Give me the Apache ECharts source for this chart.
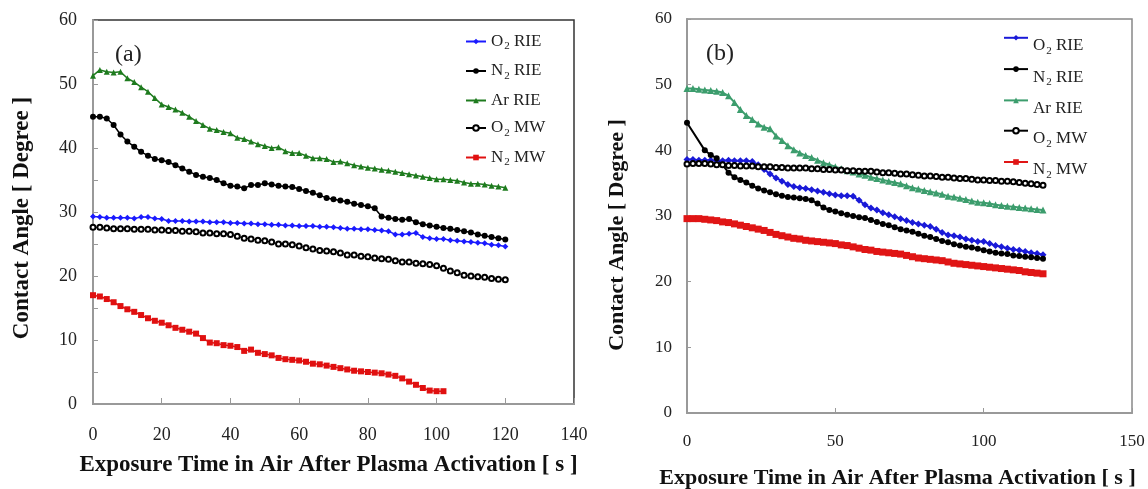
<!DOCTYPE html>
<html>
<head>
<meta charset="utf-8">
<script src="https://cdn.jsdelivr.net/npm/echarts@6/dist/echarts.min.js"></script>
<style>
html, body { margin: 0; padding: 0; background: #fff; }
#chartA { position: absolute; left: 0; top: 0; width: 600px; height: 489px; }
#chartB { position: absolute; left: 580px; top: 0; width: 568px; height: 489px; }
</style>
</head>
<body>
<div id="chartA"></div>
<div id="chartB"></div>
<script>
// (a) RIE / MW, sampled every 2 s
var timeA = [0, 2, 4, 6, 8, 10, 12, 14, 16, 18, 20, 22, 24, 26, 28, 30, 32, 34, 36, 38,
    40, 42, 44, 46, 48, 50, 52, 54, 56, 58, 60, 62, 64, 66, 68, 70, 72, 74, 76, 78,
    80, 82, 84, 86, 88, 90, 92, 94, 96, 98, 100, 102, 104, 106, 108, 110, 112, 114, 116, 118, 120];
var o2RieA = [29.3, 29.2, 29.1, 29.1, 29.1, 29.1, 29.0, 29.2, 29.2, 29.0,
    28.9, 28.6, 28.6, 28.6, 28.5, 28.5, 28.5, 28.4, 28.4, 28.4,
    28.3, 28.3, 28.2, 28.2, 28.1, 28.1, 28.0, 28.0, 27.9, 27.9,
    27.8, 27.8, 27.8, 27.7, 27.7, 27.6, 27.5, 27.4, 27.4, 27.3,
    27.3, 27.2, 27.1, 27.0, 26.5, 26.5, 26.6, 26.7, 26.1, 25.9,
    25.8, 25.8, 25.6, 25.5, 25.4, 25.3, 25.2, 25.1, 24.9, 24.8, 24.6];
var n2RieA = [44.9, 44.9, 44.6, 43.6, 42.1, 41.0, 40.2, 39.4, 38.8, 38.3,
    38.1, 37.8, 37.3, 36.8, 36.3, 35.8, 35.5, 35.3, 35.0, 34.5,
    34.1, 34.0, 33.7, 34.2, 34.2, 34.5, 34.3, 34.1, 34.0, 33.9,
    33.6, 33.3, 33.0, 32.6, 32.2, 32.0, 31.8, 31.6, 31.3, 31.1,
    30.9, 30.6, 29.3, 29.1, 28.9, 28.8, 28.9, 28.4, 28.1, 27.9,
    27.7, 27.5, 27.4, 27.2, 27.0, 26.8, 26.5, 26.3, 26.1, 25.9, 25.7];
var arRieA = [51.3, 52.2, 51.9, 51.8, 51.9, 50.9, 50.3, 49.5, 48.8, 47.8,
    46.8, 46.4, 46.0, 45.5, 44.9, 44.2, 43.6, 43.0, 42.8, 42.5,
    42.3, 41.6, 41.4, 41.0, 40.6, 40.3, 40.0, 40.1, 39.5, 39.2,
    39.2, 38.8, 38.4, 38.4, 38.3, 37.8, 37.9, 37.6, 37.3, 37.1,
    36.9, 36.8, 36.6, 36.5, 36.3, 36.1, 35.9, 35.7, 35.5, 35.3,
    35.1, 35.1, 35.0, 34.9, 34.6, 34.4, 34.4, 34.3, 34.1, 34.0, 33.8];
var o2MwA = [27.6, 27.6, 27.5, 27.4, 27.4, 27.4, 27.3, 27.3, 27.3, 27.2,
    27.2, 27.1, 27.1, 27.0, 27.0, 26.9, 26.7, 26.7, 26.6, 26.6,
    26.5, 26.2, 25.9, 25.8, 25.6, 25.5, 25.3, 25.0, 25.0, 24.9,
    24.7, 24.4, 24.2, 24.0, 23.9, 23.8, 23.6, 23.3, 23.3, 23.1,
    23.0, 22.8, 22.7, 22.6, 22.4, 22.2, 22.2, 22.0, 21.9, 21.8,
    21.6, 21.2, 20.8, 20.5, 20.1, 20.0, 19.9, 19.8, 19.6, 19.5, 19.4];
// N2 MW stops at 102 s
var n2MwA = [17.0, 16.8, 16.4, 15.9, 15.3, 14.8, 14.4, 13.9, 13.4, 13.0,
    12.7, 12.3, 11.9, 11.6, 11.3, 11.0, 10.3, 9.6, 9.5, 9.2,
    9.1, 8.9, 8.3, 8.5, 8.0, 7.8, 7.6, 7.2, 7.0, 6.9,
    6.8, 6.6, 6.3, 6.2, 6.0, 5.8, 5.6, 5.4, 5.2, 5.1,
    5.0, 4.9, 4.8, 4.6, 4.4, 4.0, 3.5, 3.0, 2.5, 2.1,
    2.0, 2.0];

// (b)
var timeB = timeA;
var o2RieB = [38.6, 38.6, 38.5, 38.5, 38.5, 38.4, 38.4, 38.5, 38.4, 38.4,
    38.4, 38.3, 37.8, 37.1, 36.4, 35.8, 35.3, 34.8, 34.5, 34.3,
    34.2, 34.0, 33.8, 33.6, 33.4, 33.2, 33.1, 33.1, 33.0, 32.4,
    31.7, 31.2, 30.9, 30.5, 30.2, 29.9, 29.6, 29.3, 29.0, 28.8,
    28.6, 28.4, 28.0, 27.5, 27.1, 27.0, 26.8, 26.5, 26.3, 26.1,
    26.1, 25.8, 25.5, 25.3, 25.1, 24.9, 24.8, 24.6, 24.4, 24.3, 24.1];
// first readings were taken at 0 s and 6 s only
var n2RieB = [44.2, null, null, 40.0, 39.3, 38.8, 37.8, 36.6, 35.9, 35.5,
    35.1, 34.6, 34.2, 33.9, 33.6, 33.3, 33.1, 32.9, 32.8, 32.7,
    32.6, 32.4, 31.9, 31.3, 30.9, 30.7, 30.4, 30.2, 30.0, 29.8,
    29.7, 29.4, 29.1, 28.8, 28.6, 28.3, 28.0, 27.8, 27.6, 27.3,
    27.0, 26.8, 26.5, 26.2, 26.0, 25.7, 25.5, 25.3, 25.2, 25.0,
    24.8, 24.6, 24.4, 24.3, 24.2, 24.0, 23.9, 23.8, 23.7, 23.6, 23.5];
var arRieB = [49.4, 49.4, 49.3, 49.2, 49.1, 49.0, 48.8, 48.3, 47.3, 46.2,
    45.3, 44.7, 44.0, 43.5, 43.3, 42.2, 41.5, 40.7, 40.1, 39.6,
    39.2, 38.9, 38.5, 38.1, 37.8, 37.5, 37.2, 36.9, 36.7, 36.4,
    36.2, 35.9, 35.7, 35.5, 35.3, 35.1, 34.9, 34.6, 34.3, 34.1,
    33.9, 33.7, 33.5, 33.3, 33.0, 32.9, 32.7, 32.5, 32.3, 32.1,
    32.0, 31.9, 31.7, 31.6, 31.5, 31.4, 31.3, 31.2, 31.1, 31.0, 30.9];
var o2MwB = [37.9, 38.0, 38.0, 38.0, 37.9, 37.8, 37.8, 37.7, 37.7, 37.6,
    37.6, 37.6, 37.5, 37.5, 37.5, 37.4, 37.4, 37.3, 37.3, 37.3,
    37.3, 37.2, 37.2, 37.1, 37.1, 37.0, 37.0, 36.9, 36.9, 36.8,
    36.8, 36.8, 36.7, 36.6, 36.6, 36.5, 36.4, 36.4, 36.3, 36.2,
    36.1, 36.1, 36.0, 35.9, 35.9, 35.8, 35.7, 35.7, 35.6, 35.5,
    35.5, 35.4, 35.4, 35.3, 35.3, 35.2, 35.1, 35.0, 34.9, 34.8, 34.7];
var n2MwB = [29.6, 29.6, 29.6, 29.5, 29.4, 29.3, 29.1, 29.0, 28.8, 28.6,
    28.4, 28.2, 28.0, 27.8, 27.5, 27.2, 27.0, 26.8, 26.6, 26.5,
    26.3, 26.2, 26.1, 26.0, 25.9, 25.8, 25.6, 25.5, 25.3, 25.1,
    24.9, 24.8, 24.6, 24.5, 24.4, 24.3, 24.2, 24.0, 23.8, 23.6,
    23.5, 23.4, 23.3, 23.2, 23.0, 22.8, 22.7, 22.6, 22.5, 22.4,
    22.3, 22.2, 22.1, 22.0, 21.9, 21.8, 21.7, 21.5, 21.4, 21.3, 21.2];

var names = ['O2 RIE', 'N2 RIE', 'Ar RIE', 'O2 MW', 'N2 MW'];
var serif = "'Liberation Serif', 'Times New Roman', serif";

function pairs(time, vals) {
    return vals.map(function (v, i) { return [time[i], v]; });
}

// O2 -> O{sub 2}
function legendFmt(name) {
    var m = name.match(/^([A-Z])2 (.+)$/);
    if (m) return '{n|' + m[1] + '}{s|2}{n| ' + m[2] + '}';
    return '{n|' + name + '}';
}

function line(name, time, vals, color, symbol, size, width) {
    return {
        name: name,
        type: 'line',
        data: pairs(time, vals),
        symbol: symbol,
        symbolSize: size,
        connectNulls: true,
        animation: false,
        lineStyle: { color: color, width: width },
        itemStyle: { color: color, borderColor: color, borderWidth: symbol === 'emptyCircle' ? 1 : 0 }
    };
}

function axisText(size) {
    return { fontFamily: serif, fontSize: size, color: '#222' };
}
function nameStyle(size, pad) {
    return { fontFamily: serif, fontSize: size, fontWeight: 'bold', color: '#111', padding: pad };
}

// ---------- (a) ----------
var chartA = echarts.init(document.getElementById('chartA'));
var optionA = {
    animation: false,
    title: {
        text: '(a)', left: 110, top: 38,
        textStyle: { fontFamily: serif, fontSize: 24, fontWeight: 'normal', color: '#222' }
    },
    legend: {
        data: names,
        orient: 'vertical',
        left: 465, top: 33, padding: 0,
        itemWidth: 20, itemHeight: 7, itemGap: 10.5,
        formatter: legendFmt,
        textStyle: {
            color: '#222',
            rich: {
                n: { fontFamily: serif, fontSize: 17, color: '#222' },
                s: { fontFamily: serif, fontSize: 11, color: '#222', padding: [10, 0, 0, 1] }
            }
        }
    },
    grid: {
        left: 93, right: 26, top: 20, bottom: 85, outerBoundsMode: 'none',
        show: true, borderColor: '#333', borderWidth: 1.5
    },
    xAxis: {
        type: 'value', min: 0, max: 140, interval: 20,
        name: 'Exposure Time in Air After Plasma Activation [ s ]',
        nameLocation: 'middle', nameGap: 50, nameTextStyle: nameStyle(23, [0, 10, 0, 0]),
        axisLine: { lineStyle: { color: '#999', width: 2 } },
        axisTick: { inside: true, length: 6, lineStyle: { color: '#999' } },
        axisLabel: Object.assign({ margin: 22 }, axisText(18)),
        splitLine: { show: false }
    },
    yAxis: {
        type: 'value', min: 0, max: 60, interval: 10,
        name: 'Contact Angle [ Degree ]',
        nameLocation: 'middle', nameGap: 59, nameTextStyle: nameStyle(23, [0, 12, 0, 0]),
        axisLine: { show: true, lineStyle: { color: '#999', width: 2 } },
        axisTick: { inside: true, length: 5, lineStyle: { color: '#999' } },
        minorTick: { show: true, splitNumber: 2, length: 5, lineStyle: { color: '#999' } },
        axisLabel: Object.assign({ margin: 16 }, axisText(18)),
        splitLine: { show: false }
    },
    series: [
        line('O2 RIE', timeA, o2RieA, '#1a1aff', 'diamond', 6, 1.5),
        line('N2 RIE', timeA, n2RieA, '#000000', 'circle', 6, 1.5),
        line('Ar RIE', timeA, arRieA, '#1e7b1e', 'triangle', 6, 1.5),
        line('O2 MW', timeA, o2MwA, '#000000', 'emptyCircle', 5, 1),
        line('N2 MW', timeA, n2MwA, '#e01010', 'rect', 6, 1.5)
    ]
};
chartA.setOption(optionA);

// ---------- (b) ----------
var chartB = echarts.init(document.getElementById('chartB'));
var optionB = {
    animation: false,
    title: {
        text: '(b)', left: 121, top: 37,
        textStyle: { fontFamily: serif, fontSize: 24, fontWeight: 'normal', color: '#222' }
    },
    legend: {
        data: names,
        orient: 'vertical',
        left: 423, top: 35, padding: 0,
        itemWidth: 24, itemHeight: 7, itemGap: 10,
        formatter: legendFmt,
        textStyle: {
            color: '#222',
            rich: {
                n: { fontFamily: serif, fontSize: 17, color: '#222', padding: [16, 0, 0, 0] },
                s: { fontFamily: serif, fontSize: 11, color: '#222', padding: [26, 0, 0, 1] }
            }
        }
    },
    grid: {
        left: 107, right: 16, top: 19, bottom: 76, outerBoundsMode: 'none',
        show: true, borderColor: '#888', borderWidth: 1.5
    },
    xAxis: {
        type: 'value', min: 0, max: 150, interval: 50,
        name: 'Exposure Time in Air After Plasma Activation [ s ]',
        nameLocation: 'middle', nameGap: 54, nameTextStyle: nameStyle(22, [0, 24, 0, 0]),
        axisLine: { lineStyle: { color: '#999', width: 2 } },
        axisTick: { inside: true, length: 5, lineStyle: { color: '#999' } },
        axisLabel: Object.assign({ margin: 20 }, axisText(17)),
        splitLine: { show: false }
    },
    yAxis: {
        type: 'value', min: 0, max: 60, interval: 10,
        name: 'Contact Angle [ Degree ]',
        nameLocation: 'middle', nameGap: 59, nameTextStyle: nameStyle(22, [0, 38, 0, 0]),
        axisLine: { show: true, lineStyle: { color: '#999', width: 2 } },
        axisTick: { inside: true, length: 4, lineStyle: { color: '#999' } },
        axisLabel: Object.assign({ margin: 15 }, axisText(17)),
        splitLine: { show: false }
    },
    series: [
        line('O2 RIE', timeB, o2RieB, '#1a1ad8', 'diamond', 7, 2),
        line('N2 RIE', timeB, n2RieB, '#000000', 'circle', 6, 2),
        line('Ar RIE', timeB, arRieB, '#3c9d6d', 'triangle', 7, 2),
        line('O2 MW', timeB, o2MwB, '#000000', 'emptyCircle', 5, 1.5),
        line('N2 MW', timeB, n2MwB, '#e01515', 'rect', 7, 2.5)
    ]
};
chartB.setOption(optionB);
</script>
</body>
</html>
